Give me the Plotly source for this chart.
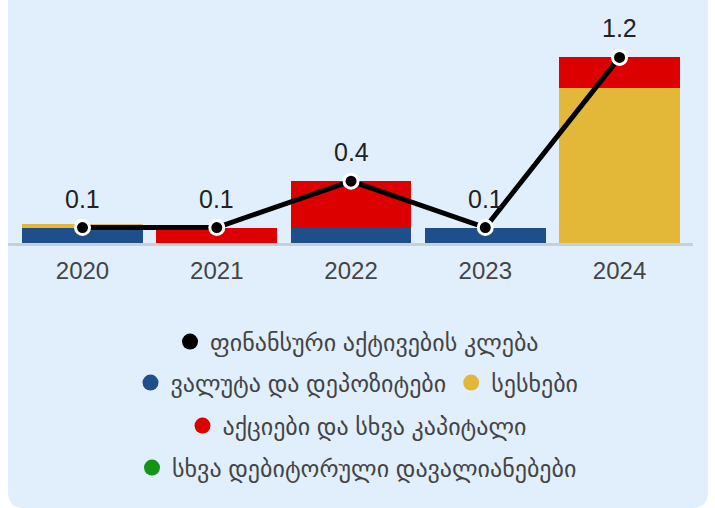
import plotly.graph_objects as go

years = ["2020", "2021", "2022", "2023", "2024"]
currency_deposits = [0.10, 0.0, 0.10, 0.10, 0.0]
loans = [0.02, 0.0, 0.0, 0.0, 1.0]
equity = [0.0, 0.10, 0.30, 0.0, 0.20]
other_receivables = [0.0, 0.0, 0.0, 0.0, 0.0]
total_decrease = [0.1, 0.1, 0.4, 0.1, 1.2]
total_labels = ["0.1", "0.1", "0.4", "0.1", "1.2"]

names = {
    "total": "ფინანსური აქტივების კლება",
    "cur": "ვალუტა და დეპოზიტები",
    "loans": "სესხები",
    "equity": "აქციები და სხვა კაპიტალი",
    "other": "სხვა დებიტორული დავალიანებები",
}
colors = {
    "total": "#000000",
    "cur": "#1e4f8a",
    "loans": "#e3b838",
    "equity": "#dd0000",
    "other": "#149414",
}

FONT = "Arial, 'Liberation Sans', 'DejaVu Sans', sans-serif"
BG = "#e1effd"

W, H = 715, 508
ML, MR, MT, MB = 8, 22, 11, 265
PW = W - ML - MR
PH = H - MT - MB

def px2x(px):
    return (px - ML) / PW

def px2y(py):
    return (H - MB - py) / PH

fig = go.Figure()
bar_series = [("cur", currency_deposits), ("loans", loans),
              ("equity", equity), ("other", other_receivables)]
for key, vals in bar_series:
    fig.add_bar(x=years, y=vals, name=names[key], marker_color=colors[key],
                marker_line_width=0, legendgroup=key, showlegend=False)

fig.add_scatter(x=years, y=total_decrease, name=names["total"], mode="lines+markers",
                line=dict(color=colors["total"], width=5),
                marker=dict(size=14, color=colors["total"], line=dict(color="#ffffff", width=3)),
                cliponaxis=False, legendgroup="total", showlegend=False)

# legend entries (circle symbols)
legend_items = [("total", "legend"), ("cur", "legend2"), ("loans", "legend2"),
                ("equity", "legend3"), ("other", "legend4")]
for key, lg in legend_items:
    fig.add_scatter(x=[None], y=[None], mode="markers", name=names[key],
                    marker=dict(size=16, color=colors[key], symbol="circle"),
                    legendgroup=key, legend=lg, showlegend=True)

for i, (v, lab) in enumerate(zip(total_decrease, total_labels)):
    fig.add_annotation(x=i, y=v, xref="x", yref="y", text=lab, showarrow=False, yshift=29,
                       font=dict(size=25, color="#222222", family=FONT))

# rounded panel background
x0, x1 = px2x(8), px2x(708)
y0, y1 = px2y(-20), px2y(508)
r = 16
rx, ry = r / PW, r / PH
path = (f"M {x0},{y0} L {x1},{y0} L {x1},{y1 + ry} "
        f"Q {x1},{y1} {x1 - rx},{y1} L {x0 + rx},{y1} "
        f"Q {x0},{y1} {x0},{y1 + ry} Z")
fig.add_shape(type="path", path=path, xref="paper", yref="paper",
              fillcolor=BG, line_width=0, layer="below")

leg_font = dict(size=24, color="#444444", family=FONT)
cx = px2x(357)
def leg(ypx):
    return dict(orientation="h", x=cx, xanchor="center", y=px2y(ypx), yanchor="middle",
                font=leg_font, bgcolor="rgba(0,0,0,0)", itemsizing="trace",
                traceorder="normal", itemclick=False, itemdoubleclick=False)

fig.update_layout(
    width=W, height=H,
    margin=dict(l=ML, r=MR, t=MT, b=MB),
    paper_bgcolor="#ffffff", plot_bgcolor="rgba(0,0,0,0)",
    barmode="stack", bargap=0.1,
    font=dict(family=FONT),
    showlegend=True,
    legend=leg(342), legend2=leg(383), legend3=leg(426), legend4=leg(468),
    xaxis=dict(type="category", range=[-0.555, 4.547], showgrid=False, showline=True,
               linecolor="#c6d0db", linewidth=2.5, ticks="", ticklabelstandoff=4,
               tickfont=dict(size=24, color="#444444", family=FONT), fixedrange=True),
    yaxis=dict(range=[0, 1.5], visible=False, showgrid=False, zeroline=False, fixedrange=True),
)

fig.write_html("out.html", config={"displayModeBar": False},
               post_script="document.body.style.margin='0';document.body.style.overflow='hidden';")
